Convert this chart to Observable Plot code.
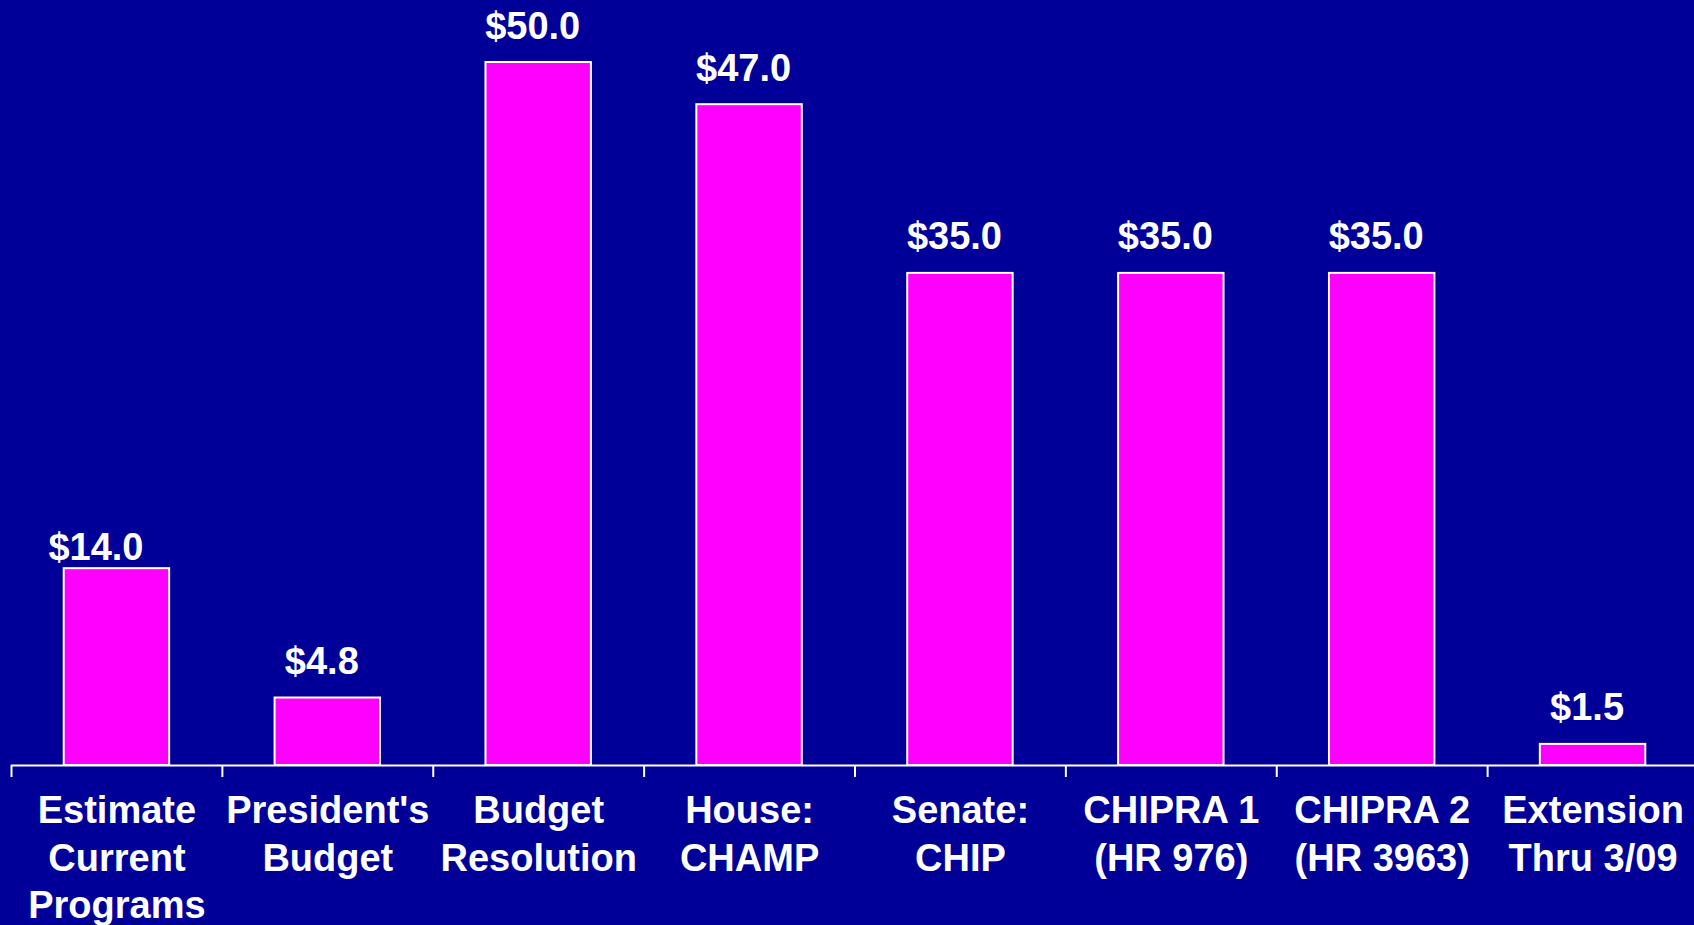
<!DOCTYPE html>
<html>
<head>
<meta charset="utf-8">
<script src="https://cdn.jsdelivr.net/npm/d3@7"></script>
<script src="https://cdn.jsdelivr.net/npm/@observablehq/plot@0.6"></script>
<style>
  html, body { margin: 0; padding: 0; background: #000099; overflow: hidden; }
  #chart svg { display: block; background: #000099; }
</style>
</head>
<body>
<div id="chart"></div>
<script>
// Data
const categories = [
  "Estimate Current Programs",
  "President's Budget",
  "Budget Resolution",
  "House: CHAMP",
  "Senate: CHIP",
  "CHIPRA 1 (HR 976)",
  "CHIPRA 2 (HR 3963)",
  "Extension Thru 3/09"
];
const tickLabels = [
  "Estimate\nCurrent\nPrograms",
  "President's\nBudget",
  "Budget\nResolution",
  "House:\nCHAMP",
  "Senate:\nCHIP",
  "CHIPRA 1\n(HR 976)",
  "CHIPRA 2\n(HR 3963)",
  "Extension\nThru 3/09"
];
const values = [14.0, 4.8, 50.0, 47.0, 35.0, 35.0, 35.0, 1.5];

const table = categories.map((c, i) => ({cat: c, label: tickLabels[i], value: values[i], text: "$" + values[i].toFixed(1)}));

const W = 1694, H = 925;
const xLeft = 11, xRight = 1698;
const step = (xRight - xLeft) / categories.length;
const font = "'Liberation Sans', Arial, Helvetica, sans-serif";

const chart = Plot.plot({
  width: W,
  height: H,
  marginLeft: xLeft,
  marginRight: 0,
  marginTop: 0,
  marginBottom: 0,
  style: {background: "#000099", fontFamily: font, overflow: "visible"},
  x: {domain: categories, range: [xLeft, xRight], paddingInner: 0.5, paddingOuter: 0.25, round: false, axis: null},
  y: {domain: [0, 50], range: [765, 62], axis: null},
  marks: [
    Plot.barY(table, {x: "cat", y: "value", fill: "#FF00FF", stroke: "white", strokeWidth: 2}),
    Plot.ruleY([0], {stroke: "white", strokeWidth: 2}),
    Plot.ruleX(table, {x: "cat", y1: () => 0, y2: () => 0, dx: -step / 2, insetBottom: -12, stroke: "white", strokeWidth: 2}),
    Plot.text(table, {
      x: "cat", y: () => 0, text: "label",
      lineAnchor: "top", dy: 24, lineHeight: 1.25,
      fontSize: 38, fontWeight: "bold", fill: "white", fontFamily: font
    }),
    Plot.text(table.slice(0, 1), {
      x: "cat", y: "value", text: "text",
      lineAnchor: "bottom", dy: -9, dx: -21,
      fontSize: 38, fontWeight: "bold", fill: "white", fontFamily: font
    }),
    Plot.text(table.slice(1), {
      x: "cat", y: "value", text: "text",
      lineAnchor: "bottom", dy: -24, dx: -6,
      fontSize: 38, fontWeight: "bold", fill: "white", fontFamily: font
    })
  ]
});
document.getElementById("chart").appendChild(chart);
</script>
</body>
</html>
